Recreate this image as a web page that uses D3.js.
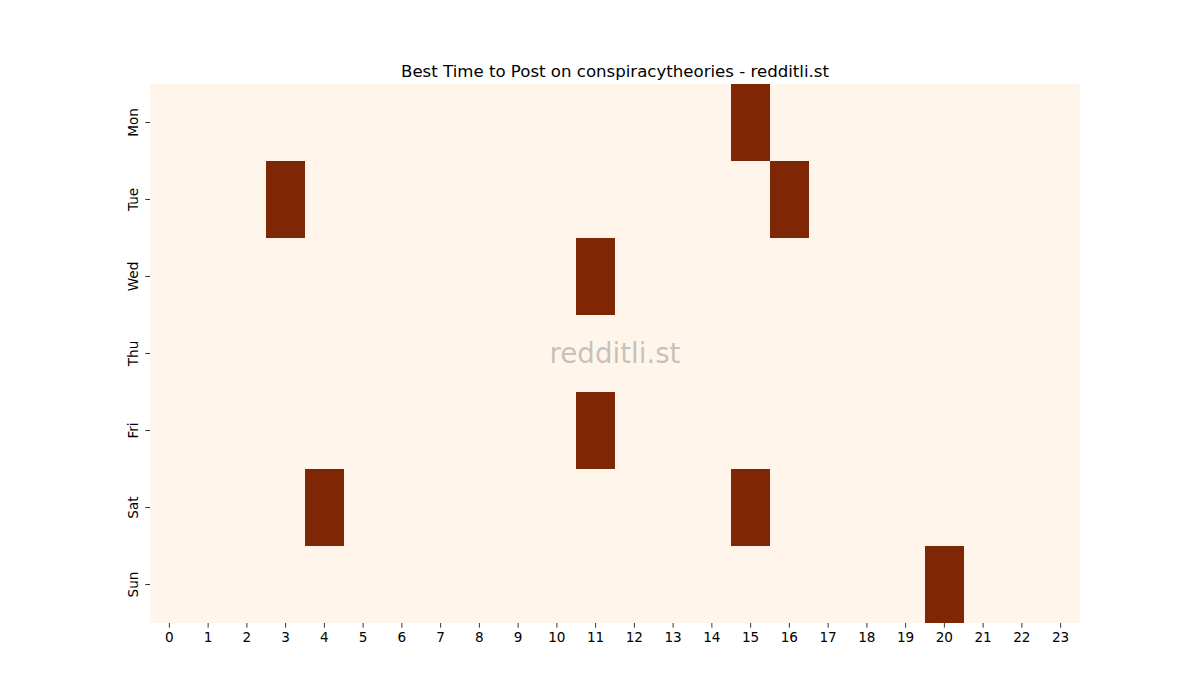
<!DOCTYPE html>
<html>
<head>
<meta charset="utf-8">
<script src="https://cdn.jsdelivr.net/npm/d3@7"></script>
<style>
html,body{margin:0;padding:0;background:#fff;}
svg{display:block;font-family:"DejaVu Sans",sans-serif;}
</style>
</head>
<body>
<svg id="chart" width="1200" height="700"></svg>
<script>
const days = ["Mon","Tue","Wed","Thu","Fri","Sat","Sun"];
const hours = ["0","1","2","3","4","5","6","7","8","9","10","11","12","13","14","15","16","17","18","19","20","21","22","23"];
const monValues = [0,0,0,0,0,0,0,0,0,0,0,0,0,0,0,1,0,0,0,0,0,0,0,0];
const tueValues = [0,0,0,1,0,0,0,0,0,0,0,0,0,0,0,0,1,0,0,0,0,0,0,0];
const wedValues = [0,0,0,0,0,0,0,0,0,0,0,1,0,0,0,0,0,0,0,0,0,0,0,0];
const thuValues = [0,0,0,0,0,0,0,0,0,0,0,0,0,0,0,0,0,0,0,0,0,0,0,0];
const friValues = [0,0,0,0,0,0,0,0,0,0,0,1,0,0,0,0,0,0,0,0,0,0,0,0];
const satValues = [0,0,0,0,1,0,0,0,0,0,0,0,0,0,0,1,0,0,0,0,0,0,0,0];
const sunValues = [0,0,0,0,0,0,0,0,0,0,0,0,0,0,0,0,0,0,0,0,1,0,0,0];
const titleText = "Best Time to Post on conspiracytheories - redditli.st";
const watermark = "redditli.st";

const rows = [monValues,tueValues,wedValues,thuValues,friValues,satValues,sunValues];
const cells = [];
rows.forEach((r,i)=>r.forEach((v,j)=>cells.push({day:days[i],hour:hours[j],value:v})));

const svg = d3.select("#chart");
const m = {left:150,right:1080,top:84,bottom:623};

const x = d3.scaleBand().domain(hours).range([m.left,m.right]).padding(0);
const y = d3.scaleBand().domain(days).range([m.top,m.bottom]).padding(0);
const color = d3.scaleSequential(d3.interpolateOranges).domain([0,1]);

svg.append("g").selectAll("rect").data(cells).join("rect")
  .attr("x",d=>x(d.hour)).attr("y",d=>y(d.day))
  .attr("width",x.bandwidth()+0.3).attr("height",y.bandwidth()+0.3)
  .attr("fill",d=>color(d.value))
  .attr("shape-rendering","crispEdges");

const xAxis = svg.append("g").attr("transform",`translate(0,${m.bottom})`)
  .call(d3.axisBottom(x).tickSize(4.67).tickPadding(4.7));
xAxis.select(".domain").remove();
xAxis.selectAll(".tick line").attr("stroke","#000").attr("stroke-width",0.8);
xAxis.selectAll(".tick text").attr("font-size","13.6px").attr("fill","#000")
  .attr("font-family","DejaVu Sans, sans-serif");

const yAxis = svg.append("g").attr("transform",`translate(${m.left},0)`)
  .call(d3.axisLeft(y).tickSize(4.67).tickPadding(4.7));
yAxis.select(".domain").remove();
yAxis.selectAll(".tick line").attr("stroke","#000").attr("stroke-width",0.8);
yAxis.selectAll(".tick text").attr("font-size","13.6px").attr("fill","#000")
  .attr("font-family","DejaVu Sans, sans-serif")
  .attr("x",null).attr("dy",null)
  .attr("text-anchor","middle")
  .attr("transform","translate(-12.5,0) rotate(-90)")
  .attr("dominant-baseline","auto");

svg.append("text").attr("x",(m.left+m.right)/2).attr("y",m.top-7)
  .attr("text-anchor","middle").attr("font-size","16.6px").attr("fill","#000")
  .text(titleText);

svg.append("text").attr("x",(m.left+m.right)/2).attr("y",(m.top+m.bottom)/2)
  .attr("text-anchor","middle").attr("dominant-baseline","central")
  .attr("font-size","27.7px").attr("fill","#808080").attr("fill-opacity",0.45)
  .text(watermark);
</script>
</body>
</html>
